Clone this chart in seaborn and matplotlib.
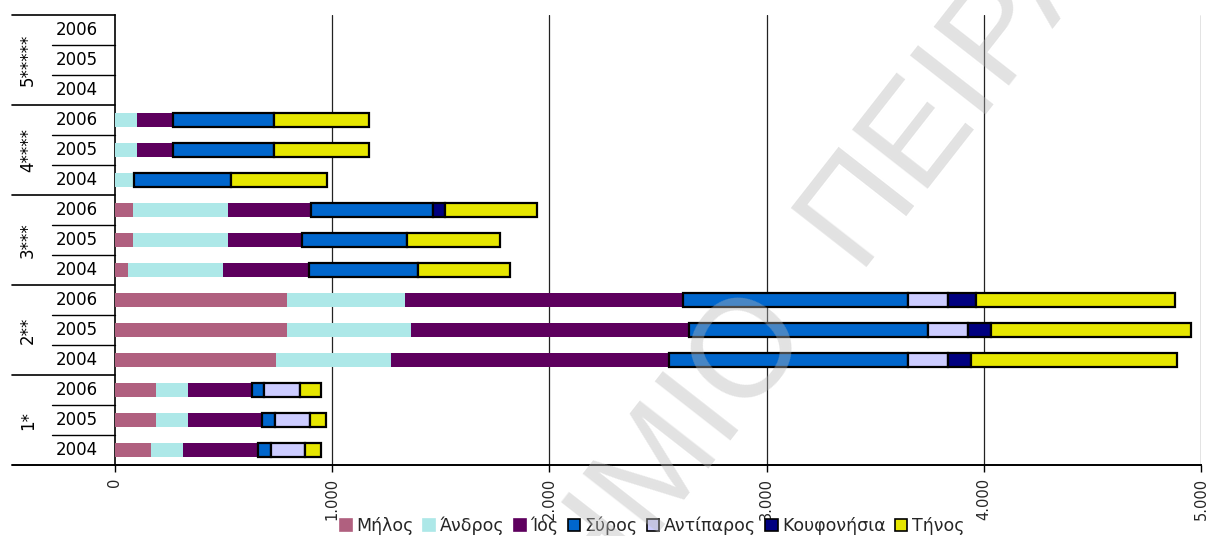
import numpy as np
import pandas as pd
import matplotlib
matplotlib.use("Agg")
import matplotlib.pyplot as plt
import seaborn as sns
from matplotlib.patches import Rectangle
from matplotlib.ticker import FuncFormatter
from matplotlib.lines import Line2D

# ---------------- data ----------------
groups = ["5*****", "4****", "3***", "2**", "1*"]
years = ["2006", "2005", "2004"]

series_names = ["Μήλος", "Άνδρος", "Ίος", "Σύρος", "Αντίπαρος", "Κουφονήσια", "Τήνος"]

# rows top -> bottom: 5*****(2006,2005,2004), 4****, 3***, 2**, 1*
milos      = [0, 0, 0,   0,   0,   0,    82,  82,  58,   790,  790,  741,  188, 188, 165]
andros     = [0, 0, 0,   101, 101, 86,   439, 439, 441,  546,  573,  531,  146, 146, 146]
ios        = [0, 0, 0,   165, 165, 0,    380, 339, 395,  1280, 1280, 1280, 297, 343, 346]
syros      = [0, 0, 0,   467, 467, 450,  563, 485, 499,  1036, 1100, 1100, 55,  60,  61]
antiparos  = [0, 0, 0,   0,   0,   0,    0,   0,   0,    183,  183,  181,  165, 160, 156]
koufonisia = [0, 0, 0,   0,   0,   0,    54,  0,   0,    128,  105,  108,  0,   0,   0]
tinos      = [0, 0, 0,   438, 438, 439,  426, 426, 424,  915,  924,  947,  96,  73,  73]

series_values = [milos, andros, ios, syros, antiparos, koufonisia, tinos]
colors = ["#B0607F", "#ADE8E8", "#5E005E", "#0066CC", "#CCCCFF", "#000080", "#E6E600"]
edged = [False, False, False, True, True, True, True]

xticks = [0, 1000, 2000, 3000, 4000, 5000]

rows = [f"{g}|{y}" for g in groups for y in years]

# ---------------- figure ----------------
sns.set_theme(style="white")
plt.rcParams["font.family"] = ["DejaVu Sans"]

W, H = 1211, 536
fig = plt.figure(figsize=(W / 100, H / 100), dpi=100)
L, R, T, B = 115, 1201, 15, 465
ax = fig.add_axes([L / W, 1 - B / H, (R - L) / W, (B - T) / H])

left = np.zeros(len(rows))
for name, vals, col, edg in zip(series_names, series_values, colors, edged):
    df = pd.DataFrame({"row": rows, "value": vals})
    n0 = len(ax.patches)
    sns.barplot(data=df, x="value", y="row", order=rows, orient="h",
                color=col, saturation=1, width=0.46, ax=ax,
                edgecolor="black" if edg else col,
                linewidth=1.6 if edg else 0, errorbar=None, zorder=3)
    new = ax.patches[n0:]
    for p, l, v in zip(new, left, vals):
        p.set_x(l)
        if v == 0:
            p.set_visible(False)
    left += np.array(vals, dtype=float)

ax.set_xlim(0, 5000)
ax.set_ylim(len(rows) - 0.5, -0.5)
ax.set_xlabel("")
ax.set_ylabel("")
ax.set_yticks([])
ax.set_xticks(xticks)
ax.xaxis.set_major_formatter(FuncFormatter(lambda v, p: f"{int(v):,}".replace(",", ".")))
ax.tick_params(axis="x", direction="out", length=5, width=1, color="black",
               labelsize=10.5, rotation=90, pad=4, bottom=True)
for lab in ax.get_xticklabels():
    lab.set_verticalalignment("top")

for v in xticks[1:]:
    ax.axvline(v, color="#222222", lw=0.9, zorder=1)

for s in ["top", "right"]:
    ax.spines[s].set_visible(False)
ax.spines["left"].set_color("black")
ax.spines["left"].set_linewidth(1.2)
ax.spines["bottom"].set_color("black")
ax.spines["bottom"].set_linewidth(1.4)

# ---------------- two-level category labels ----------------
trans = ax.get_yaxis_transform()
x_group_line = (12 - L) / (R - L)
x_year_line = (52 - L) / (R - L)
x_year_txt = (77 - L) / (R - L)
x_group_txt = (28 - L) / (R - L)

for i, r in enumerate(rows):
    g, y = r.split("|")
    ax.text(x_year_txt, i, y, transform=trans, ha="center", va="center",
            fontsize=12, color="black", clip_on=False)

for gi, g in enumerate(groups):
    ax.text(x_group_txt, gi * 3 + 1, g, transform=trans, ha="center", va="center",
            rotation=90, fontsize=12, color="black", clip_on=False)
    top = gi * 3 - 0.5
    ax.add_line(Line2D([x_group_line, 0], [top, top], transform=trans,
                       color="black", lw=1.2, clip_on=False))
    for k in (1, 2):
        yy = gi * 3 + k - 0.5
        ax.add_line(Line2D([x_year_line, 0], [yy, yy], transform=trans,
                           color="black", lw=1.0, clip_on=False))
yb = len(rows) - 0.5
ax.add_line(Line2D([x_group_line, 0], [yb, yb], transform=trans,
                   color="black", lw=1.4, clip_on=False))

# ---------------- legend ----------------
handles = [Rectangle((0, 0), 1, 1, facecolor=c, edgecolor="black" if e else c, lw=1.2)
           for c, e in zip(colors, edged)]
fig.legend(handles, series_names, loc="center", bbox_to_anchor=(652 / W, 1 - 526 / H),
           ncol=7, frameon=False, fontsize=12.5, handlelength=0.7, handleheight=0.7,
           handletextpad=0.25, columnspacing=0.55, borderpad=0, borderaxespad=0)

# ---------------- watermark ----------------
ang = 52
wm = dict(rotation=ang, rotation_mode="anchor", va="baseline", fontsize=100,
          family="Liberation Sans", color="#B8B8B8", alpha=0.4, zorder=10)
fig.text(855 / W, 1 - 267 / H, "ΠΕΙΡΑΙΑ", ha="left", **wm)
fig.text(810 / W, 1 - 325 / H, "ΠΑΝΕΠΙΣΤΗΜΙΟ", ha="right", **wm)

fig.savefig("out.png", dpi=100)
